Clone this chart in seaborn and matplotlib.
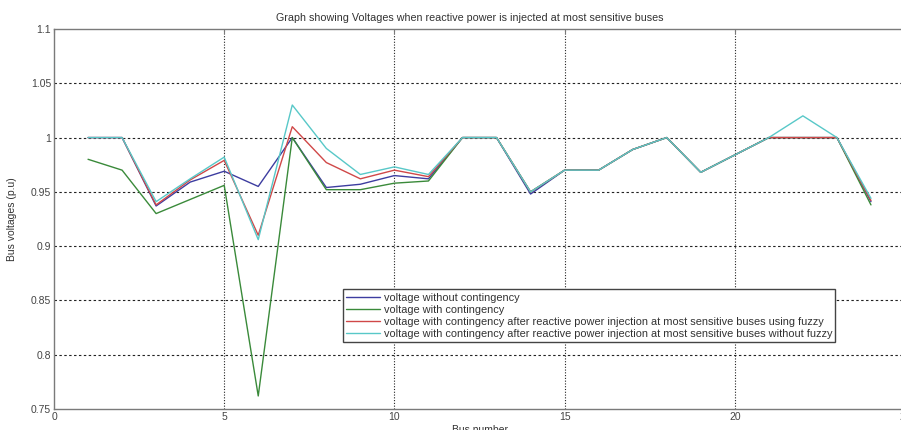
import numpy as np
import pandas as pd
import matplotlib
matplotlib.use("Agg")
import matplotlib.pyplot as plt
import seaborn as sns

# ---- data ----
buses = list(range(1, 25))
v_without_cont = [1.000, 1.000, 0.937, 0.959, 0.969, 0.955, 1.000, 0.954, 0.957, 0.965, 0.962, 1.000,
                  1.000, 0.948, 0.970, 0.970, 0.989, 1.000, 0.968, 0.984, 1.000, 1.000, 1.000, 0.941]
v_with_cont = [0.980, 0.970, 0.930, 0.943, 0.956, 0.762, 1.000, 0.952, 0.952, 0.958, 0.960, 1.000,
               1.000, 0.950, 0.970, 0.970, 0.989, 1.000, 0.968, 0.984, 1.000, 1.000, 1.000, 0.938]
v_fuzzy = [1.000, 1.000, 0.938, 0.961, 0.979, 0.910, 1.010, 0.977, 0.962, 0.970, 0.964, 1.000,
           1.000, 0.950, 0.970, 0.970, 0.989, 1.000, 0.968, 0.984, 1.000, 1.000, 1.000, 0.942]
v_no_fuzzy = [1.000, 1.000, 0.941, 0.962, 0.982, 0.906, 1.030, 0.990, 0.966, 0.973, 0.966, 1.000,
              1.000, 0.950, 0.970, 0.970, 0.989, 1.000, 0.968, 0.984, 1.000, 1.020, 1.000, 0.944]

series_names = [
    "voltage without contingency",
    "voltage with contingency",
    "voltage with contingency after reactive power injection at most sensitive buses using fuzzy",
    "voltage with contingency after reactive power injection at most sensitive buses without fuzzy",
]
x_ticks = [0, 5, 10, 15, 20, 25]
y_ticks = [0.75, 0.8, 0.85, 0.9, 0.95, 1.0, 1.05, 1.1]
y_tick_labels = ["0.75", "0.8", "0.85", "0.9", "0.95", "1", "1.05", "1.1"]

title = "Graph showing Voltages when reactive power is injected at most sensitive buses"
xlabel = "Bus number"
ylabel = "Bus voltages (p.u)"

# ---- long form table ----
frames = []
for name, vals in zip(series_names, [v_without_cont, v_with_cont, v_fuzzy, v_no_fuzzy]):
    frames.append(pd.DataFrame({"bus": buses, "voltage": vals, "series": name}))
df = pd.concat(frames, ignore_index=True)

sns.set_style("white")
plt.rcParams["font.family"] = ["Liberation Sans", "DejaVu Sans"]

palette = {
    series_names[0]: "#3d3da0",
    series_names[1]: "#3a8a3a",
    series_names[2]: "#d04848",
    series_names[3]: "#58c8c8",
}

W, H = 901, 430
fig = plt.figure(figsize=(W / 100, H / 100), dpi=100)
ax_left, ax_right, ax_top, ax_bottom = 54, 905, 29, 409
ax = fig.add_axes([ax_left / W, 1 - ax_bottom / H, (ax_right - ax_left) / W, (ax_bottom - ax_top) / H])

sns.lineplot(data=df, x="bus", y="voltage", hue="series", hue_order=series_names,
             palette=palette, linewidth=1.0, ax=ax, sort=False, estimator=None)

ax.set_xlim(0, 25)
ax.set_ylim(0.75, 1.1)
ax.set_xticks(x_ticks)
ax.set_xticklabels([str(t) for t in x_ticks])
ax.set_yticks(y_ticks)
ax.set_yticklabels(y_tick_labels)

ax.grid(False)
for yv in y_ticks[1:-1]:
    ax.axhline(yv, color="#222222", lw=0.8, ls=(0, (2.2, 2.2)), zorder=0)
for xv in x_ticks[1:-1]:
    ax.axvline(xv, color="#222222", lw=0.8, ls=(0, (1.0, 1.5)), zorder=0)

for s in ax.spines.values():
    s.set_color("#7a7a7a")
    s.set_linewidth(1.0)

ax.tick_params(axis="both", direction="in", length=3, width=0.8, colors="#7a7a7a",
               labelcolor="#444444", labelsize=7.5, top=True, right=True, pad=2)

ax.set_title(title, fontsize=7.75, color="#333333", pad=6, x=(470 - ax_left) / (ax_right - ax_left))
ax.set_xlabel(xlabel, fontsize=7.5, color="#333333", labelpad=2)
ax.set_ylabel(ylabel, fontsize=7.5, color="#333333", labelpad=10)

leg = ax.legend(loc="lower left", bbox_to_anchor=((343 - ax_left) / (ax_right - ax_left),
                                                  (ax_bottom - 342) / (ax_bottom - ax_top)),
                borderaxespad=0, fontsize=7.9, frameon=True, fancybox=False, shadow=False,
                handlelength=3.1, handletextpad=0.3, labelspacing=0.18, borderpad=0.3,
                title=None)
leg.get_frame().set_edgecolor("#444444")
leg.get_frame().set_linewidth(1.0)
leg.get_frame().set_facecolor("white")
leg.get_frame().set_alpha(1.0)
for t in leg.get_texts():
    t.set_color("#333333")

fig.savefig("out.png", dpi=100)
